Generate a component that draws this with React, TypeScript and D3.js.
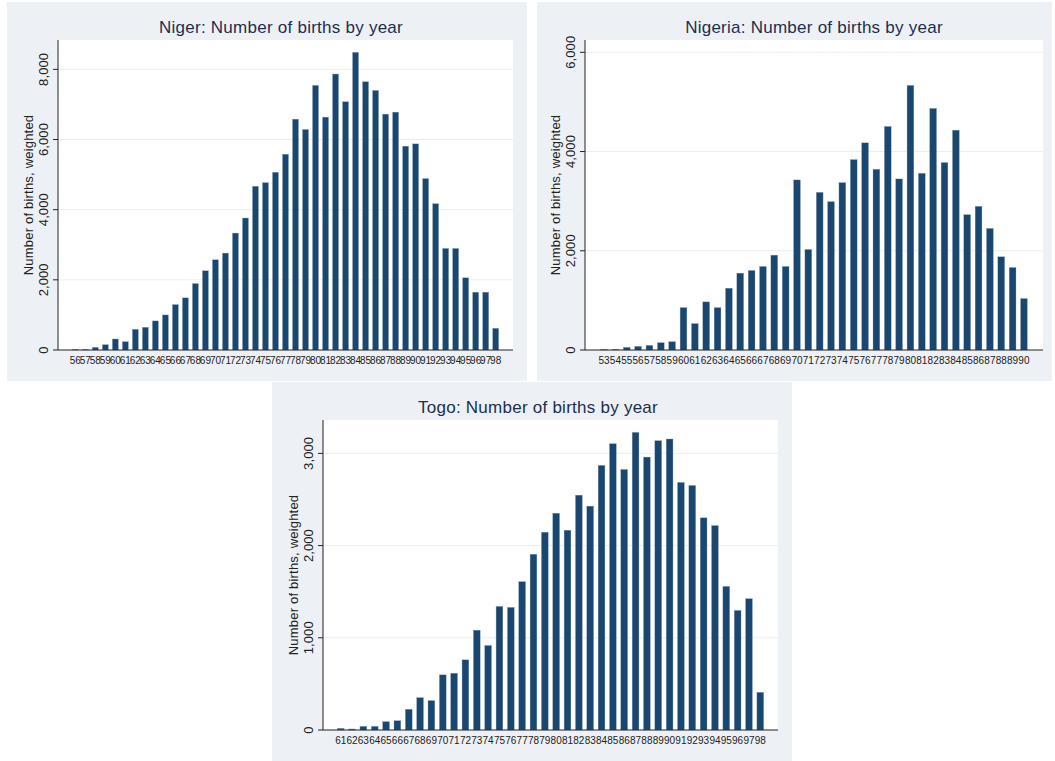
import React from "react";
import * as d3 from "d3";

const nigerYears = ["56","57","58","59","60","61","62","63","64","65","66","67","68","69","70","71","72","73","74","75","76","77","78","79","80","81","82","83","84","85","86","87","88","89","90","91","92","93","94","95","96","97","98"];
const nigerBirths = [20,20,76,152,314,238,590,648,829,1000,1295,1486,1895,2257,2571,2762,3333,3762,4667,4771,5067,5581,6581,6286,7543,6638,7867,7076,8486,7648,7400,6724,6781,5810,5876,4886,4171,2895,2895,2057,1648,1648,619];
const nigerTicks = [0,2000,4000,6000,8000];

const nigeriaYears = ["53","54","55","56","57","58","59","60","61","62","63","64","65","66","67","68","69","70","71","72","73","74","75","76","77","78","79","80","81","82","83","84","85","86","87","88","89","90"];
const nigeriaBirths = [13,13,54,74,94,148,168,855,532,970,855,1246,1549,1603,1684,1912,1684,3428,2027,3178,2990,3374,3838,4175,3643,4505,3448,5333,3562,4869,3778,4431,2727,2896,2451,1879,1663,1037];
const nigeriaTicks = [0,2000,4000,6000];

const togoYears = ["61","62","63","64","65","66","67","68","69","70","71","72","73","74","75","76","77","78","79","80","81","82","83","84","85","86","87","88","89","90","91","92","93","94","95","96","97","98"];
const togoBirths = [18,11,40,40,91,101,225,351,319,598,616,761,1083,917,1341,1330,1609,1906,2145,2351,2167,2547,2428,2870,3105,2826,3228,2960,3138,3156,2685,2652,2301,2217,1558,1297,1424,409];
const togoTicks = [0,1000,2000,3000];

const yTitle = "Number of births, weighted";

const panels = [
  { title: "Niger: Number of births by year", years: nigerYears, values: nigerBirths, ticks: nigerTicks, ymax: 8837,
    bg: [7, 2, 520, 379], plot: [58, 513, 40, 350], pad: 1.73, titleX: 281, titleY: 33 },
  { title: "Nigeria: Number of births by year", years: nigeriaYears, values: nigeriaBirths, ticks: nigeriaTicks, ymax: 6248,
    bg: [537, 2, 515, 379], plot: [585, 1043, 40, 350], pad: 1.68, titleX: 814, titleY: 33 },
  { title: "Togo: Number of births by year", years: togoYears, values: togoBirths, ticks: togoTicks, ymax: 3362,
    bg: [272, 382, 520, 379], plot: [323, 778, 420, 730], pad: 1.56, titleX: 538, titleY: 413 },
];

const BG = "#edf1f6";
const BAR = "#1a476f";
const FONT = "'Liberation Sans', Arial, sans-serif";

function Panel({ p }: { p: any }) {
  const [x0, x1, y0, y1] = p.plot;
  const x = d3.scalePoint<string>().domain(p.years).range([x0, x1]).padding(p.pad);
  const y = d3.scaleLinear().domain([0, p.ymax]).range([y1, y0]);
  const bw = x.step() * 0.6;
  const fmt = d3.format(",");
  return (
    <g>
      <rect x={p.bg[0]} y={p.bg[1]} width={p.bg[2]} height={p.bg[3]} fill={BG} />
      <rect x={x0} y={y0} width={x1 - x0} height={y1 - y0} fill="#ffffff" />
      {p.ticks.filter((t: number) => t > 0).map((t: number) => (
        <line key={"g" + t} x1={x0} x2={x1} y1={y(t)} y2={y(t)} stroke="#eaeef2" strokeWidth={1} />
      ))}
      {p.years.map((yr: string, i: number) => (
        <rect key={yr} x={(x(yr) as number) - bw / 2} y={y(p.values[i])} width={bw}
          height={y1 - y(p.values[i])} fill={BAR} stroke="#8aa3bb" strokeWidth={0.35} />
      ))}
      <line x1={x0} x2={x0} y1={y0} y2={y1} stroke="#222" strokeWidth={1} />
      <line x1={x0} x2={x1} y1={y1} y2={y1} stroke="#222" strokeWidth={1} />
      {p.ticks.map((t: number) => (
        <g key={"t" + t}>
          <line x1={x0 - 5} x2={x0} y1={y(t)} y2={y(t)} stroke="#222" strokeWidth={1} />
          <text transform={`translate(${x0 - 10},${y(t)}) rotate(-90)`} textAnchor="middle"
            fontFamily={FONT} fontSize={13} letterSpacing={0.1} fill="#222">{fmt(t)}</text>
        </g>
      ))}
      {p.years.map((yr: string) => (
        <text key={"l" + yr} x={x(yr) as number} y={y1 + 14} textAnchor="middle"
          fontFamily={FONT} fontSize={10} fill="#222">{yr}</text>
      ))}
      <text transform={`translate(${x0 - 25},${(y0 + y1) / 2}) rotate(-90)`} textAnchor="middle"
        fontFamily={FONT} fontSize={13} letterSpacing={0.2} fill="#222">{yTitle}</text>
      <text x={p.titleX} y={p.titleY} textAnchor="middle" fontFamily={FONT} fontSize={17}
        letterSpacing={0.25} fill="#1e2e4e">{p.title}</text>
    </g>
  );
}

export default function App() {
  return (
    <svg width={1055} height={761} style={{ position: "absolute", left: 0, top: 0, background: "#ffffff" }}>
      {panels.map((p, i) => <Panel key={i} p={p} />)}
    </svg>
  );
}
